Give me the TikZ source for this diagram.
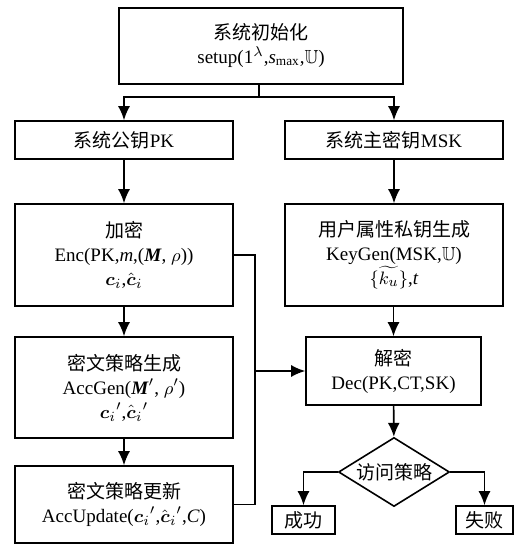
\documentclass[tikz,border=0pt]{standalone}
\usepackage{amsmath,amssymb}
\usepackage{fontspec}
\setmainfont{Liberation Serif}
\newfontfamily\zh{Noto Sans CJK SC}
\usetikzlibrary{arrows,arrows.meta,shapes,positioning}
\tikzset{box/.style={
            draw,
            thick,
            align=center,
            inner sep=0pt,
            font=\fontsize{9.5}{12}\selectfont
        },
        decision/.style={
            draw,
            thick,
            diamond,
            aspect=1.6,
            inner sep=0pt,
            minimum width=55.5pt,
            minimum height=34.5pt,
            font=\fontsize{9.5}{12}\selectfont
        },
        flow/.style={
            thick,
            -{Latex[length=7pt,width=6pt]}
        },
        link/.style={
            thick
        }
    }

\begin{document}
\begin{tikzpicture}[x=0.5pt,y=-0.5pt]
        \useasboundingbox (0,0) rectangle (514,545);
        \node[box,minimum width=142pt,minimum height=38pt] at (261,46) (init) {{\zh 系统初始化}\\setup(1\textsuperscript{$\lambda$},\textit{s}\textsubscript{max},$\mathbb{U}$)};
        \node[box,minimum width=109pt,minimum height=19pt] at (124,140) (pk) {{\zh 系统公钥}PK};
        \node[box,minimum width=109pt,minimum height=19pt] at (394,140) (msk) {{\zh 系统主密钥}MSK};
        \node[box,minimum width=109pt,minimum height=51pt] at (124,255) (enc) {{\zh 加密}\\Enc(PK,\textit{m},(\textbf{\textit{M}}, $\rho$))\\$\boldsymbol{c}_i$,$\hat{\boldsymbol{c}}_i$};
        \node[box,minimum width=109pt,minimum height=51pt] at (394,255) (keygen) {{\zh 用户属性私钥生成}\\KeyGen(MSK,$\mathbb{U}$)\\$\{\widetilde{k_u}\}$,\textit{t}};
        \node[box,minimum width=109pt,minimum height=50.5pt] at (124,387.5) (accgen) {{\zh 密文策略生成}\\AccGen(\textbf{\textit{M}}$'$, $\rho'$)\\$\boldsymbol{c}_i{}'$,$\hat{\boldsymbol{c}}_i{}'$};
        \node[box,minimum width=109pt,minimum height=38.5pt] at (124,504.5) (accupd) {{\zh 密文策略更新}\\AccUpdate($\boldsymbol{c}_i{}'$,$\hat{\boldsymbol{c}}_i{}'$,\textit{C})};
        \node[box,minimum width=87.5pt,minimum height=34pt] at (393.5,371) (dec) {{\zh 解密}\\Dec(PK,CT,SK)};
        \node[decision] at (394,472) (policy) {\zh 访问策略};
        \node[box,minimum width=31.5pt,minimum height=14pt] at (303.5,520) (succ) {\zh 成功};
        \node[box,minimum width=28.5pt,minimum height=14pt] at (484.5,520) (fail) {\zh 失败};
        \coordinate (split) at (259,97);
        \coordinate (bus) at (255,371);
        \draw[link] (init.south -| split) -- (split);
        \draw[flow] (split) -| (pk.north);
        \draw[flow] (split) -| (msk.north);
        \draw[flow] (pk) -- (enc);
        \draw[flow] (msk) -- (keygen);
        \draw[flow] (enc) -- (accgen);
        \draw[flow] (accgen) -- (accupd);
        \draw[flow] (keygen.south -| dec.north) -- (dec.north);
        \draw[link] (enc.east) -| (bus);
        \draw[link] (accupd.east) -| (bus);
        \draw[flow] (bus) -- (dec.west);
        \draw[flow] (dec) -- (policy);
        \draw[flow] (policy.west) -| (succ.north);
        \draw[flow] (policy.east) -| (fail.north);
    \end{tikzpicture}
\end{document}
